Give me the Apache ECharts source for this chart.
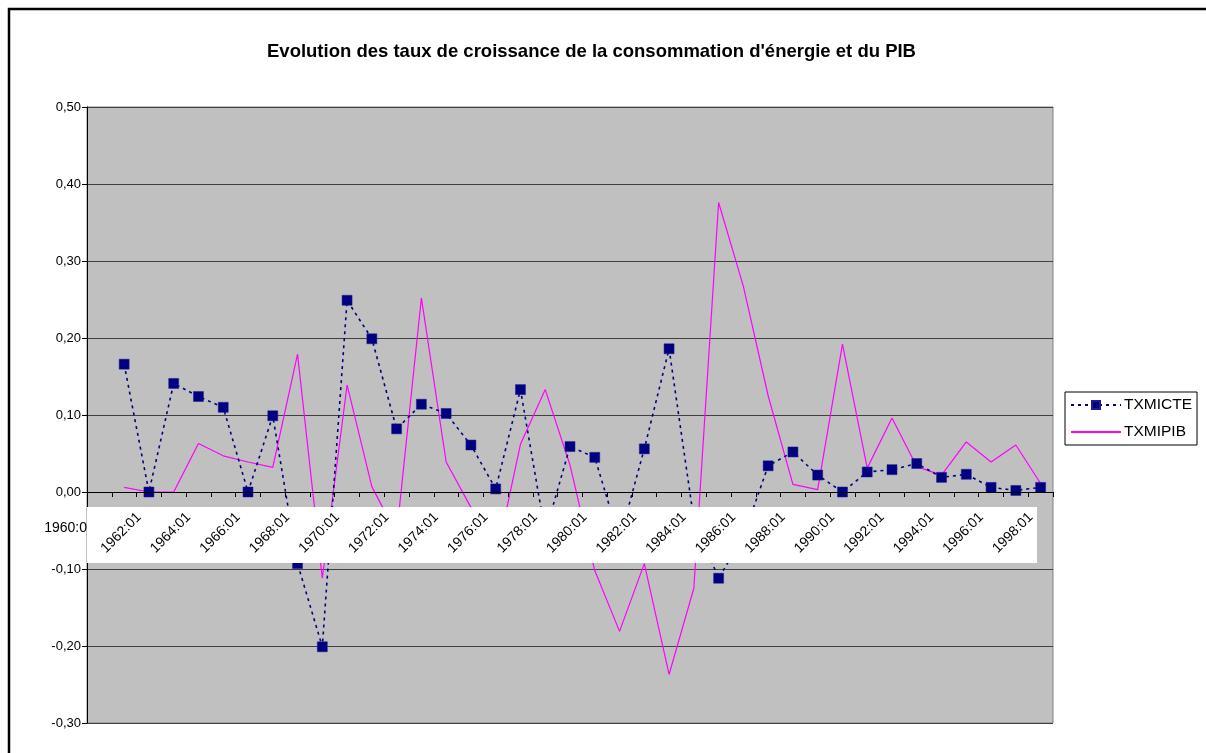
<!DOCTYPE html>
<html>
<head>
<meta charset="utf-8">
<script src="https://cdn.jsdelivr.net/npm/echarts@6/dist/echarts.min.js"></script>
<style>
  html, body { margin: 0; padding: 0; background: #fff; }
  #chart { width: 1206px; height: 753px; }
</style>
</head>
<body>
<div id="chart"></div>
<script>
// categories 1960:01 .. 1998:01
var years = [];
for (var y = 1960; y <= 1998; y++) years.push(y + ':01');

// taux de croissance de la consommation d'énergie
var txmicte = [null,
  0.166, 0.000, 0.141, 0.124, 0.110, 0.000, 0.099, -0.093, -0.201, 0.249,
  0.199, 0.082, 0.114, 0.102, 0.061, 0.004, 0.133, -0.053, 0.059, 0.045,
  -0.062, 0.056, 0.186, -0.036, -0.112, -0.058, 0.034, 0.052, 0.022, 0.000,
  0.026, 0.029, 0.037, 0.019, 0.023, 0.006, 0.002, 0.006];

// taux de croissance du PIB
var txmipib = [null,
  0.006, 0.000, 0.000, 0.063, 0.047, 0.039, 0.032, 0.179, -0.112, 0.139,
  0.007, -0.055, 0.252, 0.039, -0.020, -0.088, 0.062, 0.133, 0.035, -0.102,
  -0.181, -0.093, -0.237, -0.125, 0.376, 0.267, 0.125, 0.010, 0.003, 0.192,
  0.031, 0.096, 0.033, 0.022, 0.065, 0.039, 0.061, 0.011];

var yMin = -0.3, yMax = 0.5;
var font = 'Arial, "Liberation Sans", sans-serif';

var gridTop = 107, gridBottom = 30, chartH = 753;
var plotH = chartH - gridTop - gridBottom;
// move the category axis up to the zero line
var zeroOffset = -plotH * (0 - yMin) / (yMax - yMin);

var chart = echarts.init(document.getElementById('chart'));

var option = {
  backgroundColor: '#fff',
  animation: false,
  title: {
    text: "Evolution des taux de croissance de la consommation d'énergie et du PIB",
    left: 262,
    top: 37,
    textStyle: { fontFamily: font, fontSize: 18.5, fontWeight: 'bold', color: '#000' }
  },
  legend: {
    orient: 'vertical',
    left: 1065,
    top: 392,
    padding: [5, 5, 5, 5],
    itemWidth: 50,
    itemHeight: 10,
    itemGap: 11,
    borderColor: '#000',
    borderWidth: 1,
    backgroundColor: '#fff',
    textStyle: { fontFamily: font, fontSize: 15.5, color: '#000', padding: [0, 0, 0, -2] },
    data: ['TXMICTE', { name: 'TXMIPIB', itemStyle: { opacity: 0 } }]
  },
  grid: {
    left: 87, right: 153, top: gridTop, bottom: gridBottom,
    outerBoundsMode: 'none',
    show: true,
    backgroundColor: '#c0c0c0',
    borderColor: '#808080',
    borderWidth: 1
  },
  xAxis: {
    type: 'category',
    data: years,
    boundaryGap: true,
    z: 10,
    offset: zeroOffset,
    axisLine: { onZero: false, lineStyle: { color: '#000', width: 1 } },
    axisTick: { show: true, interval: 0, length: 5, lineStyle: { color: '#000' } },
    axisLabel: {
      interval: function (i) { return i % 2 === 0 && i > 0; },
      rotate: 45,
      margin: 13,
      padding: [0, 14, 0, 0],
      fontFamily: font,
      fontSize: 14,
      color: '#000'
    },
    splitLine: { show: false }
  },
  yAxis: {
    type: 'value',
    min: yMin,
    max: yMax,
    interval: 0.1,
    axisLine: { show: true, lineStyle: { color: '#000', width: 1 } },
    axisTick: { show: true, length: 5, lineStyle: { color: '#000' } },
    axisLabel: {
      margin: 6,
      fontFamily: font,
      fontSize: 13,
      color: '#000',
      formatter: function (v) {
        return (Math.round(v * 100) / 100).toFixed(2).replace('.', ',').replace('-0,00', '0,00');
      }
    },
    splitLine: { show: true, lineStyle: { color: '#404040', width: 1 } }
  },
  series: [
    {
      name: 'TXMICTE',
      type: 'line',
      data: txmicte,
      symbol: 'rect',
      symbolSize: 10,
      showAllSymbol: true,
      itemStyle: { color: '#000080', borderColor: '#1c1c8c', borderWidth: 0.5 },
      lineStyle: { color: '#000080', width: 1.6, type: [3, 4] },
      z: 3
    },
    {
      name: 'TXMIPIB',
      type: 'line',
      data: txmipib,
      symbol: 'none',
      itemStyle: { color: '#ff00ff' },
      lineStyle: { color: '#ff00ff', width: 1.2 },
      z: 2
    }
  ],
  graphic: [
    {
      type: 'rect',
      z: 5,
      shape: { x: 87, y: 507, width: 950, height: 56 },
      style: { fill: '#fff' }
    },
    {
      type: 'text',
      z: 6,
      x: 87,
      y: 528,
      style: {
        text: '1960:0',
        align: 'right',
        verticalAlign: 'middle',
        fontFamily: font,
        fontSize: 14,
        fill: '#000'
      }
    },
    {
      type: 'rect',
      z: 20,
      shape: { x: 9, y: 9, width: 1260, height: 800 },
      style: { fill: 'none', stroke: '#000', lineWidth: 2.5 }
    }
  ]
};

chart.setOption(option);
</script>
</body>
</html>
